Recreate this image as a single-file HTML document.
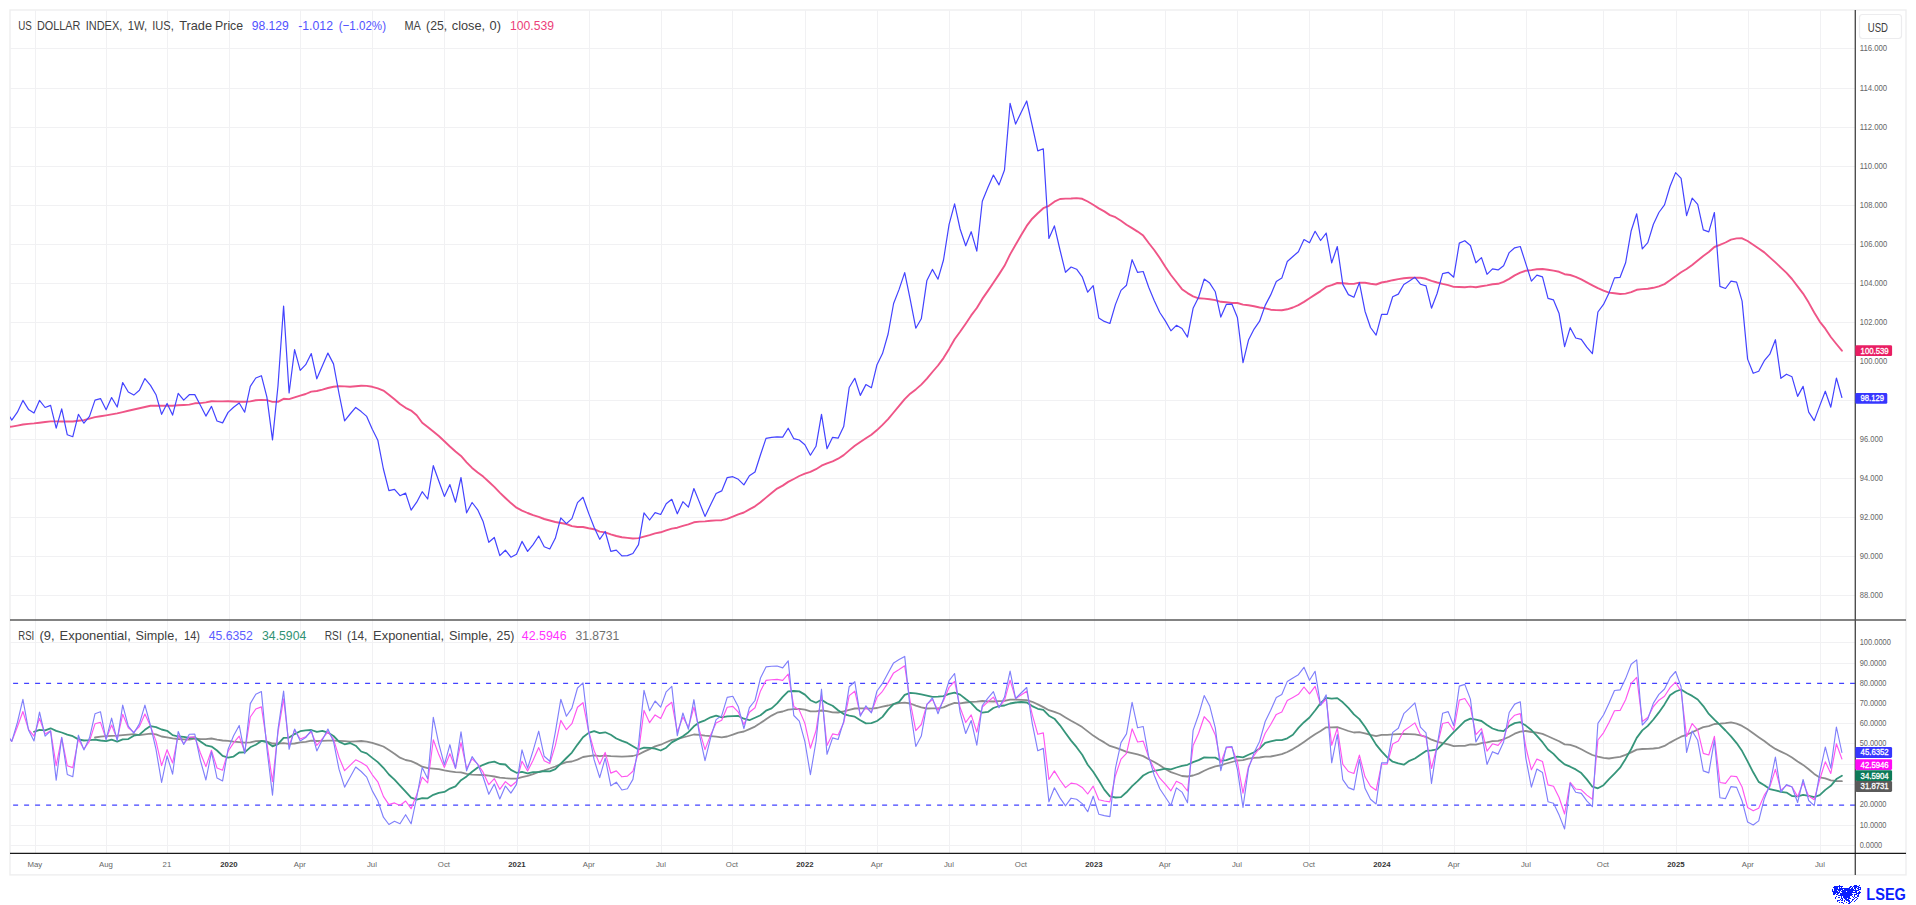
<!DOCTYPE html>
<html><head><meta charset="utf-8"><title>US DOLLAR INDEX</title><style>html,body{margin:0;padding:0;background:#fff;overflow:hidden}svg{display:block}</style></head><body>
<svg width="1916" height="905" viewBox="0 0 1916 905" font-family='"Liberation Sans", Arial, sans-serif'>
<rect width="1916" height="905" fill="#fff"/>
<rect x="10" y="10" width="1896" height="864.9" fill="none" stroke="#eeeeef" stroke-width="1.4"/>
<path d="M35.5 10V853.3 M106.5 10V853.3 M167.5 10V853.3 M229.5 10V853.3 M300.5 10V853.3 M372.5 10V853.3 M444.5 10V853.3 M517.5 10V853.3 M589.5 10V853.3 M661.5 10V853.3 M732.5 10V853.3 M805.5 10V853.3 M877.5 10V853.3 M949.5 10V853.3 M1021.5 10V853.3 M1094.5 10V853.3 M1165.5 10V853.3 M1237.5 10V853.3 M1309.5 10V853.3 M1382.5 10V853.3 M1454.5 10V853.3 M1526.5 10V853.3 M1603.5 10V853.3 M1676.5 10V853.3 M1748.5 10V853.3 M1820.5 10V853.3 M10 595.5H1855.3 M10 556.5H1855.3 M10 517.5H1855.3 M10 478.5H1855.3 M10 439.5H1855.3 M10 400.5H1855.3 M10 361.5H1855.3 M10 322.5H1855.3 M10 283.5H1855.3 M10 244.5H1855.3 M10 205.5H1855.3 M10 166.5H1855.3 M10 127.5H1855.3 M10 88.5H1855.3 M10 48.5H1855.3 M10 845.5H1855.3 M10 825.5H1855.3 M10 784.5H1855.3 M10 764.5H1855.3 M10 743.5H1855.3 M10 723.5H1855.3 M10 703.5H1855.3 M10 663.5H1855.3 M10 642.5H1855.3" stroke="#f1f1f3" stroke-width="1" fill="none"/>
<defs><clipPath id="cp"><rect x="10" y="10" width="1845.3" height="610.0"/></clipPath><clipPath id="cr"><rect x="10" y="620.0" width="1845.3" height="233.29999999999995"/></clipPath></defs>
<g clip-path="url(#cp)" fill="none" stroke-linejoin="round" stroke-linecap="round">
<path d="M6.3 426.9 L11.8 426.6 L17.4 425.6 L22.9 424.5 L28.5 423.9 L34.0 423.4 L39.5 422.7 L45.1 422.0 L50.6 421.4 L56.2 421.4 L61.7 421.5 L67.3 421.5 L72.8 421.5 L78.4 420.8 L83.9 420.1 L89.5 418.6 L95.0 417.1 L100.5 416.3 L106.1 415.4 L111.6 414.4 L117.2 413.4 L122.7 412.1 L128.3 410.8 L133.8 409.5 L139.4 408.2 L144.9 407.0 L150.5 405.7 L156.0 405.7 L161.6 405.7 L167.1 405.7 L172.6 405.7 L178.2 405.3 L183.7 405.0 L189.3 404.6 L194.8 403.3 L200.4 403.1 L205.9 402.4 L211.5 401.2 L217.0 401.4 L222.6 401.4 L228.1 401.2 L233.6 401.5 L239.2 401.7 L244.7 401.8 L250.3 401.4 L255.8 400.2 L261.4 399.9 L266.9 400.1 L272.5 401.9 L278.0 401.8 L283.6 398.8 L289.1 399.1 L294.6 397.3 L300.2 395.6 L305.7 394.0 L311.3 391.6 L316.8 391.0 L322.4 389.6 L327.9 388.0 L333.5 386.7 L339.0 386.3 L344.6 386.4 L350.1 386.8 L355.7 386.2 L361.2 385.8 L366.7 385.9 L372.3 386.8 L377.8 388.3 L383.4 390.6 L388.9 394.7 L394.5 399.2 L400.0 404.0 L405.6 407.8 L411.1 410.6 L416.7 415.3 L422.2 422.7 L427.7 427.0 L433.3 431.6 L438.8 436.0 L444.4 441.3 L449.9 446.5 L455.5 451.5 L461.0 455.9 L466.6 462.3 L472.1 467.9 L477.7 472.5 L483.2 476.6 L488.8 481.7 L494.3 486.9 L499.8 492.6 L505.4 498.0 L510.9 503.1 L516.5 507.7 L522.0 510.6 L527.6 513.0 L533.1 515.2 L538.7 516.8 L544.2 519.0 L549.8 520.5 L555.3 522.0 L560.8 523.0 L566.4 524.0 L571.9 526.1 L577.5 527.0 L583.0 527.0 L588.6 528.2 L594.1 529.2 L599.7 531.6 L605.2 532.4 L610.8 534.3 L616.3 536.0 L621.9 537.3 L627.4 537.9 L632.9 538.5 L638.5 538.1 L644.0 536.6 L649.6 535.1 L655.1 533.4 L660.7 532.3 L666.2 530.4 L671.8 528.6 L677.3 527.7 L682.9 525.9 L688.4 524.3 L693.9 522.3 L699.5 521.6 L705.0 521.4 L710.6 520.8 L716.1 520.4 L721.7 520.2 L727.2 518.8 L732.8 516.7 L738.3 514.3 L743.9 512.5 L749.4 509.4 L755.0 506.3 L760.5 502.3 L766.0 497.6 L771.6 492.9 L777.1 488.6 L782.7 485.6 L788.2 481.9 L793.8 479.0 L799.3 476.0 L804.9 473.6 L810.4 471.9 L816.0 469.2 L821.5 465.7 L827.0 463.3 L832.6 461.3 L838.1 458.7 L843.7 455.1 L849.2 450.4 L854.8 445.8 L860.3 442.0 L865.9 438.3 L871.4 434.7 L877.0 430.1 L882.5 424.9 L888.1 419.2 L893.6 412.5 L899.1 405.9 L904.7 399.2 L910.2 393.7 L915.8 389.4 L921.3 384.6 L926.9 378.7 L932.4 372.0 L938.0 365.5 L943.5 358.1 L949.1 348.9 L954.6 339.2 L960.1 331.8 L965.7 323.7 L971.2 315.4 L976.8 308.0 L982.3 298.9 L987.9 290.9 L993.4 282.8 L999.0 274.4 L1004.5 265.8 L1010.1 254.4 L1015.6 244.8 L1021.1 235.2 L1026.7 225.9 L1032.2 218.7 L1037.8 213.2 L1043.3 208.2 L1048.9 205.8 L1054.4 201.7 L1060.0 199.0 L1065.5 198.6 L1071.1 198.5 L1076.6 198.1 L1082.2 198.8 L1087.7 201.5 L1093.2 204.8 L1098.8 208.4 L1104.3 211.4 L1109.9 215.1 L1115.4 217.2 L1121.0 220.8 L1126.5 224.7 L1132.1 228.1 L1137.6 231.6 L1143.2 235.6 L1148.7 243.0 L1154.2 250.0 L1159.8 258.0 L1165.3 266.8 L1170.9 275.0 L1176.4 282.0 L1182.0 289.2 L1187.5 293.1 L1193.1 296.4 L1198.6 298.3 L1204.2 298.6 L1209.7 299.2 L1215.3 300.1 L1220.8 301.8 L1226.3 302.2 L1231.9 303.0 L1237.4 303.0 L1243.0 304.6 L1248.5 305.3 L1254.1 306.3 L1259.6 307.5 L1265.2 308.3 L1270.7 309.7 L1276.3 310.1 L1281.8 310.3 L1287.3 309.3 L1292.9 307.5 L1298.4 305.1 L1304.0 301.9 L1309.5 298.3 L1315.1 294.6 L1320.6 291.1 L1326.2 286.9 L1331.7 285.1 L1337.3 283.0 L1342.8 283.3 L1348.4 283.7 L1353.9 283.9 L1359.4 282.6 L1365.0 282.8 L1370.5 283.8 L1376.1 284.5 L1381.6 282.5 L1387.2 281.5 L1392.7 280.2 L1398.3 279.1 L1403.8 278.3 L1409.4 277.7 L1414.9 277.6 L1420.4 277.8 L1426.0 278.8 L1431.5 280.9 L1437.1 282.5 L1442.6 283.9 L1448.2 285.1 L1453.7 286.9 L1459.3 287.0 L1464.8 287.3 L1470.4 286.6 L1475.9 287.3 L1481.5 286.2 L1487.0 285.4 L1492.5 284.3 L1498.1 283.8 L1503.6 281.9 L1509.2 278.9 L1514.7 275.4 L1520.3 272.7 L1525.8 270.7 L1531.4 270.1 L1536.9 269.3 L1542.5 269.0 L1548.0 269.7 L1553.5 270.6 L1559.1 271.8 L1564.6 274.2 L1570.2 275.0 L1575.7 276.8 L1581.3 279.4 L1586.8 282.4 L1592.4 285.4 L1597.9 288.2 L1603.5 290.7 L1609.0 292.6 L1614.5 293.2 L1620.1 294.0 L1625.6 293.6 L1631.2 292.1 L1636.7 289.8 L1642.3 289.1 L1647.8 288.7 L1653.4 287.8 L1658.9 286.4 L1664.5 284.1 L1670.0 280.3 L1675.6 276.2 L1681.1 272.3 L1686.6 269.0 L1692.2 264.9 L1697.7 260.5 L1703.3 255.9 L1708.8 252.0 L1714.4 247.0 L1719.9 244.9 L1725.5 242.5 L1731.0 239.6 L1736.6 238.4 L1742.1 238.3 L1747.6 241.0 L1753.2 244.8 L1758.7 248.5 L1764.3 252.4 L1769.8 257.4 L1775.4 262.4 L1780.9 267.6 L1786.5 272.9 L1792.0 279.0 L1797.6 286.3 L1803.1 293.6 L1808.7 302.6 L1814.2 312.5 L1819.7 321.6 L1825.3 328.7 L1830.8 337.0 L1836.4 344.0 L1841.9 350.7" stroke="#ef5587" stroke-width="1.9"/>
<path d="M6.3 411.1 L11.8 420.1 L17.4 412.2 L22.9 400.4 L28.5 409.4 L34.0 413.0 L39.5 400.4 L45.1 407.5 L50.6 405.4 L56.2 428.2 L61.7 408.9 L67.3 434.8 L72.8 436.7 L78.4 414.3 L83.9 423.2 L89.5 416.4 L95.0 400.1 L100.5 398.6 L106.1 409.8 L111.6 397.5 L117.2 407.0 L122.7 382.5 L128.3 392.0 L133.8 395.1 L139.4 390.2 L144.9 378.6 L150.5 385.4 L156.0 394.7 L161.6 414.3 L167.1 403.5 L172.6 415.1 L178.2 393.3 L183.7 400.1 L189.3 394.7 L194.8 394.6 L200.4 405.3 L205.9 416.1 L211.5 406.4 L217.0 421.0 L222.6 422.9 L228.1 412.4 L233.6 407.2 L239.2 403.0 L244.7 412.2 L250.3 386.4 L255.8 378.0 L261.4 375.7 L266.9 397.2 L272.5 439.9 L278.0 385.7 L283.6 306.0 L289.1 393.0 L294.6 349.7 L300.2 370.4 L305.7 364.7 L311.3 353.6 L316.8 378.8 L322.4 365.7 L327.9 353.1 L333.5 363.9 L339.0 393.5 L344.6 420.8 L350.1 414.0 L355.7 407.4 L361.2 411.6 L366.7 416.4 L372.3 429.2 L377.8 440.2 L383.4 469.0 L388.9 490.6 L394.5 489.4 L400.0 495.7 L405.6 493.1 L411.1 510.1 L416.7 502.2 L422.2 491.7 L427.7 499.0 L433.3 465.7 L438.8 481.0 L444.4 496.4 L449.9 484.6 L455.5 502.2 L461.0 477.5 L466.6 512.8 L472.1 502.5 L477.7 509.8 L483.2 521.8 L488.8 542.3 L494.3 537.5 L499.8 555.6 L505.4 550.2 L510.9 557.2 L516.5 554.3 L522.0 541.4 L527.6 551.4 L533.1 544.6 L538.7 536.0 L544.2 546.7 L549.8 549.0 L555.3 538.3 L560.8 517.8 L566.4 523.6 L571.9 518.6 L577.5 502.6 L583.0 497.3 L588.6 513.1 L594.1 527.3 L599.7 539.3 L605.2 531.5 L610.8 551.4 L616.3 550.1 L621.9 555.9 L627.4 555.6 L632.9 553.5 L638.5 544.6 L644.0 512.9 L649.6 520.0 L655.1 512.6 L660.7 514.5 L666.2 503.8 L671.8 499.3 L677.3 513.8 L682.9 501.7 L688.4 507.2 L693.9 488.5 L699.5 502.4 L705.0 516.4 L710.6 504.8 L716.1 493.5 L721.7 490.9 L727.2 477.6 L732.8 476.7 L738.3 479.3 L743.9 484.9 L749.4 475.7 L755.0 472.0 L760.5 454.7 L766.0 438.4 L771.6 437.3 L777.1 436.8 L782.7 437.1 L788.2 428.2 L793.8 438.7 L799.3 440.0 L804.9 444.7 L810.4 455.2 L816.0 446.3 L821.5 414.3 L827.0 448.7 L832.6 437.3 L838.1 438.2 L843.7 426.6 L849.2 387.5 L854.8 378.3 L860.3 395.4 L865.9 384.6 L871.4 387.8 L877.0 364.7 L882.5 353.6 L888.1 334.0 L893.6 303.5 L899.1 289.4 L904.7 272.6 L910.2 299.3 L915.8 328.2 L921.3 318.8 L926.9 280.4 L932.4 269.4 L938.0 279.2 L943.5 260.0 L949.1 224.3 L954.6 203.8 L960.1 229.0 L965.7 245.8 L971.2 231.7 L976.8 251.1 L982.3 201.2 L987.9 187.6 L993.4 175.0 L999.0 184.9 L1004.5 170.0 L1010.1 103.4 L1015.6 124.1 L1021.1 112.6 L1026.7 101.0 L1032.2 125.5 L1037.8 150.9 L1043.3 148.8 L1048.9 238.5 L1054.4 225.9 L1060.0 250.0 L1065.5 272.3 L1071.1 267.0 L1076.6 269.2 L1082.2 276.8 L1087.7 292.2 L1093.2 285.7 L1098.8 318.0 L1104.3 321.4 L1109.9 323.5 L1115.4 304.6 L1121.0 290.4 L1126.5 285.2 L1132.1 259.7 L1137.6 272.4 L1143.2 271.5 L1148.7 287.3 L1154.2 300.4 L1159.8 312.5 L1165.3 320.9 L1170.9 330.8 L1176.4 325.3 L1182.0 328.5 L1187.5 337.1 L1193.1 308.3 L1198.6 297.2 L1204.2 279.1 L1209.7 283.1 L1215.3 291.8 L1220.8 317.1 L1226.3 304.4 L1231.9 304.1 L1237.4 317.4 L1243.0 362.7 L1248.5 340.1 L1254.1 329.1 L1259.6 321.2 L1265.2 305.4 L1270.7 294.9 L1276.3 281.4 L1281.8 278.1 L1287.3 261.5 L1292.9 256.5 L1298.4 251.7 L1304.0 239.5 L1309.5 242.8 L1315.1 231.3 L1320.6 240.5 L1326.2 233.1 L1331.7 262.8 L1337.3 246.5 L1342.8 284.4 L1348.4 294.6 L1353.9 297.3 L1359.4 282.6 L1365.0 311.2 L1370.5 327.5 L1376.1 335.1 L1381.6 314.4 L1387.2 314.4 L1392.7 296.8 L1398.3 294.1 L1403.8 284.5 L1409.4 280.9 L1414.9 277.3 L1420.4 284.2 L1426.0 285.9 L1431.5 308.2 L1437.1 293.5 L1442.6 273.6 L1448.2 272.3 L1453.7 277.2 L1459.3 243.1 L1464.8 240.7 L1470.4 245.5 L1475.9 262.8 L1481.5 257.6 L1487.0 274.3 L1492.5 268.8 L1498.1 269.9 L1503.6 265.7 L1509.2 252.6 L1514.7 247.8 L1520.3 246.5 L1525.8 263.6 L1531.4 281.1 L1536.9 275.1 L1542.5 276.9 L1548.0 298.3 L1553.5 299.9 L1559.1 313.6 L1564.6 346.6 L1570.2 327.7 L1575.7 338.0 L1581.3 339.3 L1586.8 347.2 L1592.4 353.7 L1597.9 312.0 L1603.5 304.4 L1609.0 292.9 L1614.5 277.9 L1620.1 277.3 L1625.6 262.8 L1631.2 230.7 L1636.7 213.8 L1642.3 248.9 L1647.8 242.6 L1653.4 224.3 L1658.9 212.5 L1664.5 204.9 L1670.0 186.5 L1675.6 172.6 L1681.1 178.4 L1686.6 215.6 L1692.2 198.1 L1697.7 204.4 L1703.3 229.9 L1708.8 231.9 L1714.4 212.5 L1719.9 286.4 L1725.5 288.5 L1731.0 281.1 L1736.6 282.2 L1742.1 301.1 L1747.6 359.1 L1753.2 373.3 L1758.7 371.2 L1764.3 360.7 L1769.8 354.2 L1775.4 339.7 L1780.9 378.3 L1786.5 374.2 L1792.0 376.8 L1797.6 396.4 L1803.1 386.4 L1808.7 412.2 L1814.2 420.6 L1819.7 405.9 L1825.3 391.2 L1830.8 407.2 L1836.4 378.0 L1841.9 397.5" stroke="#4343ff" stroke-width="1.2"/>
</g>
<g clip-path="url(#cr)" fill="none" stroke-linejoin="round" stroke-linecap="round">
<path d="M2.1 683.4H1855.3M2.1 805.1H1855.3" stroke="#4343ff" stroke-width="1.1" stroke-dasharray="5 6" stroke-linecap="butt"/>
<path d="M95.0 737.5 L100.5 736.7 L106.1 736.2 L111.6 735.9 L117.2 735.6 L122.7 735.1 L128.3 734.6 L133.8 734.1 L139.4 735.2 L144.9 734.4 L150.5 733.7 L156.0 734.3 L161.6 736.5 L167.1 737.3 L172.6 738.4 L178.2 739.0 L183.7 739.4 L189.3 739.7 L194.8 738.5 L200.4 739.2 L205.9 739.2 L211.5 738.5 L217.0 739.6 L222.6 740.5 L228.1 740.9 L233.6 741.7 L239.2 742.2 L244.7 742.7 L250.3 742.4 L255.8 741.2 L261.4 740.9 L266.9 741.5 L272.5 743.5 L278.0 743.7 L283.6 743.1 L289.1 743.9 L294.6 743.5 L300.2 742.4 L305.7 741.9 L311.3 740.6 L316.8 741.0 L322.4 740.8 L327.9 740.6 L333.5 740.7 L339.0 740.9 L344.6 741.1 L350.1 741.7 L355.7 741.3 L361.2 741.0 L366.7 741.6 L372.3 742.9 L377.8 744.7 L383.4 746.5 L388.9 750.0 L394.5 753.7 L400.0 757.7 L405.6 760.0 L411.1 761.1 L416.7 763.6 L422.2 766.7 L427.7 768.2 L433.3 768.6 L438.8 769.2 L444.4 770.4 L449.9 771.3 L455.5 772.2 L461.0 772.4 L466.6 773.8 L472.1 774.6 L477.7 774.9 L483.2 775.0 L488.8 775.7 L494.3 776.5 L499.8 777.6 L505.4 778.2 L510.9 778.6 L516.5 778.6 L522.0 777.2 L527.6 775.9 L533.1 774.2 L538.7 771.9 L544.2 770.3 L549.8 768.5 L555.3 766.5 L560.8 764.2 L566.4 762.1 L571.9 761.5 L577.5 759.6 L583.0 757.0 L588.6 756.1 L594.1 755.4 L599.7 756.2 L605.2 755.6 L610.8 756.2 L616.3 756.4 L621.9 756.6 L627.4 756.3 L632.9 756.0 L638.5 754.5 L644.0 751.6 L649.6 749.1 L655.1 746.4 L660.7 744.7 L666.2 742.2 L671.8 739.8 L677.3 739.2 L682.9 737.5 L688.4 736.0 L693.9 734.5 L699.5 734.9 L705.0 735.7 L710.6 736.1 L716.1 736.7 L721.7 737.4 L727.2 736.5 L732.8 734.7 L738.3 732.6 L743.9 731.5 L749.4 729.1 L755.0 726.6 L760.5 723.1 L766.0 719.3 L771.6 715.6 L777.1 712.7 L782.7 711.5 L788.2 709.6 L793.8 709.2 L799.3 708.9 L804.9 709.6 L810.4 711.4 L816.0 711.4 L821.5 710.5 L827.0 711.2 L832.6 712.3 L838.1 712.5 L843.7 711.4 L849.2 709.8 L854.8 708.5 L860.3 708.3 L865.9 708.3 L871.4 708.6 L877.0 708.0 L882.5 706.6 L888.1 705.5 L893.6 704.1 L899.1 703.2 L904.7 702.6 L910.2 703.5 L915.8 705.6 L921.3 707.3 L926.9 708.5 L932.4 708.3 L938.0 708.3 L943.5 707.4 L949.1 704.9 L954.6 702.9 L960.1 703.4 L965.7 702.5 L971.2 701.8 L976.8 701.6 L982.3 701.0 L987.9 701.3 L993.4 701.5 L999.0 701.2 L1004.5 700.9 L1010.1 699.6 L1015.6 699.7 L1021.1 699.8 L1026.7 700.2 L1032.2 701.8 L1037.8 704.4 L1043.3 707.1 L1048.9 710.2 L1054.4 711.8 L1060.0 714.0 L1065.5 717.4 L1071.1 720.7 L1076.6 723.7 L1082.2 727.1 L1087.7 731.4 L1093.2 735.6 L1098.8 739.3 L1104.3 742.4 L1109.9 745.9 L1115.4 747.6 L1121.0 749.7 L1126.5 751.8 L1132.1 753.1 L1137.6 754.4 L1143.2 756.1 L1148.7 759.2 L1154.2 762.0 L1159.8 765.3 L1165.3 769.0 L1170.9 772.1 L1176.4 774.0 L1182.0 776.0 L1187.5 776.5 L1193.1 775.5 L1198.6 773.6 L1204.2 770.8 L1209.7 768.3 L1215.3 766.4 L1220.8 765.4 L1226.3 763.5 L1231.9 762.0 L1237.4 760.5 L1243.0 760.2 L1248.5 758.7 L1254.1 757.9 L1259.6 757.5 L1265.2 756.7 L1270.7 756.5 L1276.3 755.4 L1281.8 754.2 L1287.3 752.0 L1292.9 749.1 L1298.4 745.7 L1304.0 741.9 L1309.5 738.0 L1315.1 734.2 L1320.6 731.0 L1326.2 727.3 L1331.7 727.3 L1337.3 727.1 L1342.8 729.0 L1348.4 731.0 L1353.9 732.5 L1359.4 732.2 L1365.0 733.4 L1370.5 734.9 L1376.1 736.1 L1381.6 734.9 L1387.2 734.8 L1392.7 734.4 L1398.3 734.1 L1403.8 734.0 L1409.4 734.1 L1414.9 734.4 L1420.4 735.3 L1426.0 736.8 L1431.5 739.7 L1437.1 741.7 L1442.6 743.2 L1448.2 744.3 L1453.7 746.1 L1459.3 745.9 L1464.8 745.9 L1470.4 744.4 L1475.9 744.6 L1481.5 743.2 L1487.0 742.4 L1492.5 741.2 L1498.1 740.8 L1503.6 739.3 L1509.2 736.7 L1514.7 733.7 L1520.3 731.6 L1525.8 731.0 L1531.4 732.0 L1536.9 732.7 L1542.5 733.9 L1548.0 736.3 L1553.5 738.8 L1559.1 741.3 L1564.6 744.4 L1570.2 744.9 L1575.7 746.6 L1581.3 749.3 L1586.8 752.2 L1592.4 755.0 L1597.9 756.6 L1603.5 757.9 L1609.0 758.5 L1614.5 757.6 L1620.1 756.8 L1625.6 754.8 L1631.2 752.4 L1636.7 749.6 L1642.3 749.0 L1647.8 748.8 L1653.4 748.5 L1658.9 747.9 L1664.5 745.9 L1670.0 742.6 L1675.6 739.5 L1681.1 736.7 L1686.6 734.8 L1692.2 732.3 L1697.7 729.6 L1703.3 727.2 L1708.8 726.1 L1714.4 724.0 L1719.9 723.7 L1725.5 723.2 L1731.0 722.3 L1736.6 723.7 L1742.1 725.9 L1747.6 729.3 L1753.2 733.3 L1758.7 737.2 L1764.3 741.0 L1769.8 745.2 L1775.4 748.9 L1780.9 751.6 L1786.5 754.3 L1792.0 757.5 L1797.6 761.4 L1803.1 764.9 L1808.7 769.2 L1814.2 773.9 L1819.7 777.4 L1825.3 778.4 L1830.8 780.4 L1836.4 781.0 L1841.9 781.2" stroke="#8c8c8c" stroke-width="1.8"/>
<path d="M34.0 731.8 L39.5 729.9 L45.1 730.4 L50.6 728.3 L56.2 730.9 L61.7 732.5 L67.3 734.6 L72.8 736.2 L78.4 739.4 L83.9 740.5 L89.5 740.2 L95.0 739.6 L100.5 740.5 L106.1 741.2 L111.6 739.6 L117.2 741.6 L122.7 739.4 L128.3 739.1 L133.8 735.7 L139.4 734.7 L144.9 729.8 L150.5 726.1 L156.0 727.1 L161.6 729.5 L167.1 730.8 L172.6 735.1 L178.2 736.5 L183.7 736.8 L189.3 738.0 L194.8 737.5 L200.4 741.4 L205.9 745.3 L211.5 746.6 L217.0 750.5 L222.6 755.9 L228.1 757.6 L233.6 756.6 L239.2 752.5 L244.7 752.4 L250.3 747.3 L255.8 744.7 L261.4 740.9 L266.9 742.0 L272.5 746.3 L278.0 744.1 L283.6 737.8 L289.1 737.6 L294.6 734.1 L300.2 731.2 L305.7 730.4 L311.3 730.0 L316.8 731.8 L322.4 730.8 L327.9 732.6 L333.5 736.0 L339.0 741.6 L344.6 744.3 L350.1 743.0 L355.7 745.7 L361.2 751.5 L366.7 753.4 L372.3 757.9 L377.8 762.1 L383.4 767.8 L388.9 774.5 L394.5 779.6 L400.0 785.6 L405.6 791.7 L411.1 797.6 L416.7 799.6 L422.2 798.2 L427.7 798.3 L433.3 794.8 L438.8 792.8 L444.4 791.9 L449.9 788.6 L455.5 786.3 L461.0 780.2 L466.6 776.4 L472.1 771.7 L477.7 767.5 L483.2 764.8 L488.8 762.7 L494.3 761.7 L499.8 764.0 L505.4 764.5 L510.9 769.9 L516.5 772.8 L522.0 771.8 L527.6 773.4 L533.1 772.2 L538.7 772.1 L544.2 771.1 L549.8 771.4 L555.3 769.1 L560.8 763.6 L566.4 758.0 L571.9 752.6 L577.5 744.6 L583.0 737.3 L588.6 732.9 L594.1 731.1 L599.7 733.1 L605.2 732.3 L610.8 734.8 L616.3 738.5 L621.9 740.9 L627.4 742.9 L632.9 746.2 L638.5 749.5 L644.0 747.6 L649.6 747.8 L655.1 748.7 L660.7 750.5 L666.2 747.7 L671.8 742.4 L677.3 739.4 L682.9 736.2 L688.4 732.2 L693.9 726.3 L699.5 722.3 L705.0 720.3 L710.6 717.3 L716.1 715.6 L721.7 717.4 L727.2 716.4 L732.8 716.1 L738.3 716.0 L743.9 718.7 L749.4 720.2 L755.0 717.7 L760.5 715.2 L766.0 710.7 L771.6 708.3 L777.1 703.4 L782.7 696.8 L788.2 691.3 L793.8 691.0 L799.3 691.4 L804.9 694.6 L810.4 700.2 L816.0 702.7 L821.5 699.8 L827.0 703.2 L832.6 705.8 L838.1 710.2 L843.7 714.1 L849.2 715.6 L854.8 716.7 L860.3 720.2 L865.9 723.4 L871.4 723.2 L877.0 721.0 L882.5 716.9 L888.1 709.6 L893.6 704.0 L899.1 701.9 L904.7 694.9 L910.2 692.8 L915.8 693.3 L921.3 694.4 L926.9 695.6 L932.4 696.8 L938.0 696.6 L943.5 696.1 L949.1 693.8 L954.6 692.6 L960.1 694.6 L965.7 699.0 L971.2 703.1 L976.8 709.2 L982.3 712.7 L987.9 711.9 L993.4 708.0 L999.0 706.0 L1004.5 705.5 L1010.1 703.5 L1015.6 702.5 L1021.1 702.0 L1026.7 702.5 L1032.2 706.1 L1037.8 708.8 L1043.3 709.9 L1048.9 715.7 L1054.4 718.7 L1060.0 725.3 L1065.5 733.0 L1071.1 740.6 L1076.6 747.2 L1082.2 754.8 L1087.7 764.8 L1093.2 771.8 L1098.8 780.5 L1104.3 789.6 L1109.9 796.3 L1115.4 797.5 L1121.0 797.1 L1126.5 792.3 L1132.1 786.2 L1137.6 781.2 L1143.2 775.5 L1148.7 772.5 L1154.2 770.8 L1159.8 769.8 L1165.3 768.7 L1170.9 769.4 L1176.4 767.5 L1182.0 765.8 L1187.5 764.8 L1193.1 762.1 L1198.6 760.1 L1204.2 757.4 L1209.7 757.6 L1215.3 757.6 L1220.8 760.8 L1226.3 760.1 L1231.9 758.1 L1237.4 756.7 L1243.0 757.4 L1248.5 754.8 L1254.1 752.2 L1259.6 748.6 L1265.2 742.8 L1270.7 741.4 L1276.3 740.1 L1281.8 740.1 L1287.3 738.3 L1292.9 734.8 L1298.4 727.9 L1304.0 722.2 L1309.5 717.5 L1315.1 710.5 L1320.6 703.1 L1326.2 697.9 L1331.7 698.6 L1337.3 698.1 L1342.8 702.3 L1348.4 707.8 L1353.9 714.4 L1359.4 719.1 L1365.0 726.7 L1370.5 735.4 L1376.1 744.6 L1381.6 751.4 L1387.2 757.3 L1392.7 761.7 L1398.3 763.3 L1403.8 764.7 L1409.4 760.8 L1414.9 758.5 L1420.4 754.8 L1426.0 750.9 L1431.5 750.4 L1437.1 749.4 L1442.6 744.0 L1448.2 737.8 L1453.7 732.2 L1459.3 726.7 L1464.8 721.1 L1470.4 718.7 L1475.9 719.7 L1481.5 721.0 L1487.0 725.0 L1492.5 728.5 L1498.1 730.4 L1503.6 731.1 L1509.2 726.0 L1514.7 723.1 L1520.3 722.2 L1525.8 725.6 L1531.4 730.0 L1536.9 735.9 L1542.5 742.2 L1548.0 749.5 L1553.5 753.9 L1559.1 759.8 L1564.6 764.4 L1570.2 766.7 L1575.7 769.4 L1581.3 773.1 L1586.8 779.4 L1592.4 786.7 L1597.9 788.3 L1603.5 785.2 L1609.0 779.2 L1614.5 773.6 L1620.1 767.7 L1625.6 758.9 L1631.2 749.0 L1636.7 737.9 L1642.3 730.4 L1647.8 725.9 L1653.4 719.5 L1658.9 712.4 L1664.5 704.4 L1670.0 695.2 L1675.6 691.5 L1681.1 689.5 L1686.6 693.0 L1692.2 695.9 L1697.7 699.5 L1703.3 706.1 L1708.8 713.9 L1714.4 719.6 L1719.9 724.8 L1725.5 730.5 L1731.0 736.4 L1736.6 743.1 L1742.1 751.1 L1747.6 761.4 L1753.2 772.3 L1758.7 781.9 L1764.3 785.2 L1769.8 789.1 L1775.4 790.3 L1780.9 791.8 L1786.5 792.6 L1792.0 796.0 L1797.6 796.3 L1803.1 794.9 L1808.7 795.9 L1814.2 797.2 L1819.7 795.2 L1825.3 789.9 L1830.8 785.8 L1836.4 779.1 L1841.9 775.8" stroke="#36957a" stroke-width="1.8"/>
<path d="M6.3 734.1 L11.8 741.4 L17.4 726.7 L22.9 711.5 L28.5 729.4 L34.0 736.2 L39.5 718.3 L45.1 734.0 L50.6 730.8 L56.2 765.7 L61.7 737.6 L67.3 765.8 L72.8 767.6 L78.4 739.2 L83.9 749.2 L89.5 741.1 L95.0 723.8 L100.5 722.4 L106.1 739.1 L111.6 725.0 L117.2 739.0 L122.7 714.3 L128.3 727.8 L133.8 732.2 L139.4 726.5 L144.9 714.1 L150.5 726.1 L156.0 741.1 L161.6 765.6 L167.1 749.7 L172.6 763.0 L178.2 735.3 L183.7 743.7 L189.3 737.1 L194.8 737.0 L200.4 753.0 L205.9 766.6 L211.5 750.3 L217.0 768.0 L222.6 770.2 L228.1 751.3 L233.6 742.9 L239.2 736.1 L244.7 752.1 L250.3 717.0 L255.8 709.0 L261.4 706.9 L266.9 743.2 L272.5 781.6 L278.0 732.4 L283.6 698.8 L289.1 745.9 L294.6 729.9 L300.2 739.0 L305.7 736.7 L311.3 731.8 L316.8 745.5 L322.4 738.6 L327.9 731.9 L333.5 739.2 L339.0 757.2 L344.6 770.7 L350.1 765.3 L355.7 759.8 L361.2 762.6 L366.7 765.9 L372.3 774.8 L377.8 781.8 L383.4 796.4 L388.9 804.6 L394.5 802.9 L400.0 805.5 L405.6 801.0 L411.1 808.7 L416.7 794.6 L422.2 777.1 L427.7 782.9 L433.3 739.8 L438.8 754.6 L444.4 767.4 L449.9 753.7 L455.5 768.3 L461.0 742.6 L466.6 768.6 L472.1 758.8 L477.7 764.0 L483.2 772.4 L488.8 784.7 L494.3 778.6 L499.8 789.3 L505.4 781.6 L510.9 786.3 L516.5 781.5 L522.0 761.2 L527.6 771.0 L533.1 760.3 L538.7 747.6 L544.2 760.8 L549.8 763.5 L555.3 745.7 L560.8 720.4 L566.4 729.7 L571.9 723.7 L577.5 707.3 L583.0 702.7 L588.6 731.1 L594.1 750.6 L599.7 764.2 L605.2 752.4 L610.8 773.1 L616.3 770.9 L621.9 776.8 L627.4 776.1 L632.9 771.3 L638.5 752.1 L644.0 710.4 L649.6 722.7 L655.1 714.9 L660.7 718.4 L666.2 706.8 L671.8 702.3 L677.3 731.8 L682.9 717.1 L688.4 727.4 L693.9 707.2 L699.5 730.7 L705.0 749.6 L710.6 735.1 L716.1 722.9 L721.7 720.2 L727.2 707.2 L732.8 706.4 L738.3 712.1 L743.9 724.5 L749.4 712.3 L755.0 707.8 L760.5 690.9 L766.0 680.4 L771.6 679.7 L777.1 679.4 L782.7 680.4 L788.2 674.0 L793.8 706.4 L799.3 710.1 L804.9 723.4 L810.4 748.2 L816.0 730.8 L821.5 695.0 L827.0 745.5 L832.6 733.9 L838.1 735.0 L843.7 722.8 L849.2 695.6 L854.8 691.2 L860.3 714.9 L865.9 707.6 L871.4 712.2 L877.0 697.2 L882.5 691.3 L888.1 682.6 L893.6 672.9 L899.1 669.5 L904.7 665.8 L910.2 701.8 L915.8 730.6 L921.3 724.5 L926.9 704.3 L932.4 699.6 L938.0 710.2 L943.5 700.7 L949.1 687.3 L954.6 681.4 L960.1 707.5 L965.7 722.5 L971.2 714.9 L976.8 732.1 L982.3 707.0 L987.9 701.8 L993.4 697.1 L999.0 707.1 L1004.5 700.4 L1010.1 680.2 L1015.6 698.7 L1021.1 695.0 L1026.7 691.2 L1032.2 714.3 L1037.8 734.3 L1043.3 732.9 L1048.9 779.5 L1054.4 770.9 L1060.0 780.0 L1065.5 787.6 L1071.1 783.1 L1076.6 784.0 L1082.2 787.4 L1087.7 794.0 L1093.2 786.1 L1098.8 799.8 L1104.3 801.0 L1109.9 801.9 L1115.4 775.7 L1121.0 759.1 L1126.5 753.3 L1132.1 728.8 L1137.6 742.0 L1143.2 741.1 L1148.7 757.4 L1154.2 768.9 L1159.8 778.2 L1165.3 784.2 L1170.9 790.8 L1176.4 781.3 L1182.0 784.0 L1187.5 791.0 L1193.1 745.6 L1198.6 733.3 L1204.2 716.7 L1209.7 722.5 L1215.3 734.9 L1220.8 763.0 L1226.3 747.6 L1231.9 747.3 L1237.4 762.1 L1243.0 793.2 L1248.5 766.7 L1254.1 755.5 L1259.6 747.7 L1265.2 733.2 L1270.7 724.5 L1276.3 714.4 L1281.8 711.9 L1287.3 700.5 L1292.9 697.4 L1298.4 694.3 L1304.0 687.0 L1309.5 693.8 L1315.1 686.3 L1320.6 705.2 L1326.2 699.0 L1331.7 745.2 L1337.3 728.2 L1342.8 764.4 L1348.4 771.5 L1353.9 773.5 L1359.4 755.1 L1365.0 776.8 L1370.5 786.2 L1376.1 790.3 L1381.6 764.2 L1387.2 764.2 L1392.7 744.0 L1398.3 741.1 L1403.8 730.8 L1409.4 726.9 L1414.9 722.9 L1420.4 734.7 L1426.0 737.6 L1431.5 768.5 L1437.1 746.0 L1442.6 723.5 L1448.2 722.2 L1453.7 730.3 L1459.3 700.1 L1464.8 698.5 L1470.4 707.3 L1475.9 734.6 L1481.5 728.7 L1487.0 751.2 L1492.5 743.8 L1498.1 745.4 L1503.6 738.9 L1509.2 720.9 L1514.7 715.2 L1520.3 713.6 L1525.8 747.0 L1531.4 769.8 L1536.9 759.1 L1542.5 761.5 L1548.0 784.9 L1553.5 786.3 L1559.1 797.5 L1564.6 814.0 L1570.2 782.4 L1575.7 789.0 L1581.3 789.8 L1586.8 795.1 L1592.4 799.3 L1597.9 740.0 L1603.5 732.8 L1609.0 722.5 L1614.5 710.8 L1620.1 710.4 L1625.6 699.7 L1631.2 683.3 L1636.7 677.3 L1642.3 721.5 L1647.8 717.5 L1653.4 706.5 L1658.9 700.2 L1664.5 696.3 L1670.0 687.7 L1675.6 682.2 L1681.1 691.3 L1686.6 736.4 L1692.2 723.6 L1697.7 730.2 L1703.3 753.4 L1708.8 755.0 L1714.4 736.3 L1719.9 782.5 L1725.5 783.4 L1731.0 776.0 L1736.6 776.6 L1742.1 787.0 L1747.6 807.4 L1753.2 810.8 L1758.7 808.3 L1764.3 795.1 L1769.8 786.9 L1775.4 769.3 L1780.9 790.1 L1786.5 785.4 L1792.0 786.8 L1797.6 796.6 L1803.1 782.8 L1808.7 796.1 L1814.2 799.7 L1819.7 779.5 L1825.3 761.8 L1830.8 773.5 L1836.4 743.8 L1841.9 759.0" stroke="#ff55f0" stroke-width="1.15"/>
<path d="M6.3 734.1 L11.8 741.4 L17.4 722.5 L22.9 699.4 L28.5 729.9 L34.0 740.9 L39.5 712.0 L45.1 736.1 L50.6 731.0 L56.2 780.1 L61.7 737.3 L67.3 774.5 L72.8 776.7 L78.4 735.2 L83.9 749.9 L89.5 737.8 L95.0 713.8 L100.5 711.8 L106.1 739.7 L111.6 718.1 L117.2 740.7 L122.7 705.1 L128.3 726.2 L133.8 733.1 L139.4 723.9 L144.9 705.1 L150.5 725.5 L156.0 749.4 L161.6 782.5 L167.1 755.8 L172.6 774.2 L178.2 731.5 L183.7 744.4 L189.3 734.2 L194.8 734.1 L200.4 760.4 L205.9 780.0 L211.5 751.8 L217.0 778.0 L222.6 780.9 L228.1 749.1 L233.6 735.8 L239.2 725.4 L244.7 753.6 L250.3 703.6 L255.8 694.2 L261.4 691.6 L266.9 748.7 L272.5 795.2 L278.0 729.4 L283.6 691.1 L289.1 749.3 L294.6 729.1 L300.2 741.0 L305.7 737.6 L311.3 730.4 L316.8 750.9 L322.4 739.7 L327.9 729.0 L333.5 741.4 L339.0 769.2 L344.6 787.1 L350.1 777.3 L355.7 767.0 L361.2 771.5 L366.7 777.1 L372.3 790.9 L377.8 800.7 L383.4 817.2 L388.9 824.5 L394.5 821.3 L400.0 823.8 L405.6 814.7 L411.1 823.8 L416.7 797.5 L422.2 767.5 L427.7 778.8 L433.3 717.4 L438.8 743.8 L444.4 764.8 L449.9 744.7 L455.5 768.4 L461.0 731.8 L466.6 770.8 L472.1 756.6 L477.7 764.5 L483.2 777.2 L488.8 794.3 L494.3 784.0 L499.8 799.0 L505.4 786.0 L510.9 793.1 L516.5 784.4 L522.0 749.9 L527.6 768.2 L533.1 750.7 L538.7 731.2 L544.2 756.3 L549.8 761.3 L555.3 732.3 L560.8 699.3 L566.4 716.2 L571.9 708.1 L577.5 688.0 L583.0 682.9 L588.6 731.1 L594.1 759.7 L599.7 777.6 L605.2 758.1 L610.8 785.8 L616.3 782.2 L621.9 790.0 L627.4 788.8 L632.9 779.4 L638.5 744.6 L644.0 690.4 L649.6 710.8 L655.1 701.0 L660.7 707.1 L666.2 691.8 L671.8 686.4 L677.3 735.7 L682.9 713.0 L688.4 729.2 L693.9 699.7 L699.5 734.8 L705.0 760.6 L710.6 737.8 L716.1 719.6 L721.7 715.6 L727.2 697.4 L732.8 696.3 L738.3 706.7 L743.9 728.6 L749.4 707.6 L755.0 700.5 L760.5 678.0 L766.0 666.9 L771.6 666.3 L777.1 666.0 L782.7 667.9 L788.2 660.8 L793.8 715.5 L799.3 721.2 L804.9 741.7 L810.4 774.6 L816.0 741.5 L821.5 689.2 L827.0 754.3 L832.6 737.9 L838.1 739.5 L843.7 721.4 L849.2 686.7 L854.8 681.7 L860.3 716.2 L865.9 705.8 L871.4 712.8 L877.0 691.0 L882.5 683.4 L888.1 672.9 L893.6 662.9 L899.1 659.6 L904.7 656.4 L910.2 709.1 L915.8 746.5 L921.3 736.1 L926.9 704.5 L932.4 697.9 L938.0 713.7 L943.5 699.0 L949.1 680.7 L954.6 673.5 L960.1 712.3 L965.7 733.5 L971.2 720.5 L976.8 745.2 L982.3 705.5 L987.9 698.2 L993.4 691.6 L999.0 707.7 L1004.5 697.1 L1010.1 671.1 L1015.6 698.5 L1021.1 693.0 L1026.7 687.5 L1032.2 723.1 L1037.8 750.8 L1043.3 748.4 L1048.9 801.8 L1054.4 787.8 L1060.0 797.9 L1065.5 805.9 L1071.1 798.2 L1076.6 799.3 L1082.2 803.6 L1087.7 811.7 L1093.2 796.2 L1098.8 814.2 L1104.3 815.6 L1109.9 816.6 L1115.4 768.5 L1121.0 742.6 L1126.5 733.9 L1132.1 702.4 L1137.6 727.8 L1143.2 726.5 L1148.7 756.7 L1154.2 775.2 L1159.8 788.8 L1165.3 797.0 L1170.9 805.5 L1176.4 787.9 L1182.0 792.1 L1187.5 802.7 L1193.1 730.4 L1198.6 714.8 L1204.2 695.6 L1209.7 705.9 L1215.3 727.9 L1220.8 770.7 L1226.3 747.0 L1231.9 746.5 L1237.4 769.4 L1243.0 807.4 L1248.5 768.4 L1254.1 752.6 L1259.6 741.5 L1265.2 721.5 L1270.7 710.2 L1276.3 697.5 L1281.8 694.5 L1287.3 681.4 L1292.9 678.0 L1298.4 674.7 L1304.0 667.3 L1309.5 680.3 L1315.1 671.3 L1320.6 705.1 L1326.2 694.9 L1331.7 762.8 L1337.3 734.5 L1342.8 779.7 L1348.4 787.6 L1353.9 789.9 L1359.4 759.5 L1365.0 788.3 L1370.5 799.3 L1376.1 804.0 L1381.6 762.8 L1387.2 762.8 L1392.7 732.4 L1398.3 728.2 L1403.8 713.7 L1409.4 708.3 L1414.9 702.9 L1420.4 727.1 L1426.0 732.8 L1431.5 783.4 L1437.1 745.5 L1442.6 713.3 L1448.2 711.6 L1453.7 725.7 L1459.3 686.1 L1464.8 684.4 L1470.4 699.1 L1475.9 741.9 L1481.5 732.1 L1487.0 764.4 L1492.5 751.7 L1498.1 754.1 L1503.6 742.0 L1509.2 712.5 L1514.7 704.1 L1520.3 701.8 L1525.8 758.0 L1531.4 787.2 L1536.9 769.0 L1542.5 772.5 L1548.0 801.7 L1553.5 803.3 L1559.1 815.1 L1564.6 829.0 L1570.2 783.2 L1575.7 792.2 L1581.3 793.4 L1586.8 800.9 L1592.4 806.7 L1597.9 723.4 L1603.5 715.0 L1609.0 703.2 L1614.5 690.5 L1620.1 689.9 L1625.6 678.6 L1631.2 664.3 L1636.7 659.9 L1642.3 725.0 L1647.8 719.0 L1653.4 703.1 L1658.9 694.4 L1664.5 689.0 L1670.0 677.9 L1675.6 671.5 L1681.1 686.8 L1686.6 752.4 L1692.2 731.0 L1697.7 740.3 L1703.3 770.9 L1708.8 772.9 L1714.4 740.2 L1719.9 797.7 L1725.5 798.6 L1731.0 786.6 L1736.6 787.4 L1742.1 801.0 L1747.6 822.1 L1753.2 825.0 L1758.7 820.9 L1764.3 798.7 L1769.8 785.0 L1775.4 757.0 L1780.9 792.1 L1786.5 784.6 L1792.0 787.0 L1797.6 802.5 L1803.1 779.5 L1808.7 800.5 L1814.2 805.6 L1819.7 773.1 L1825.3 747.0 L1830.8 768.1 L1836.4 727.0 L1841.9 752.5" stroke="#8080fb" stroke-width="1.15"/>
</g>
<path d="M10 620.0H1906" stroke="#5a5a5a" stroke-width="1.5"/>
<path d="M1855.3 10V874.9" stroke="#4f4f4f" stroke-width="1.4"/>
<path d="M10 853.3H1906" stroke="#1a1a1a" stroke-width="1.2"/>
<text x="1859.7" y="598.1" font-size="8.2" fill="#666" textLength="23.2" lengthAdjust="spacingAndGlyphs">88.000</text>
<text x="1859.7" y="559.1" font-size="8.2" fill="#666" textLength="23.2" lengthAdjust="spacingAndGlyphs">90.000</text>
<text x="1859.7" y="520.1" font-size="8.2" fill="#666" textLength="23.2" lengthAdjust="spacingAndGlyphs">92.000</text>
<text x="1859.7" y="481.1" font-size="8.2" fill="#666" textLength="23.2" lengthAdjust="spacingAndGlyphs">94.000</text>
<text x="1859.7" y="442.1" font-size="8.2" fill="#666" textLength="23.2" lengthAdjust="spacingAndGlyphs">96.000</text>
<text x="1859.7" y="403.1" font-size="8.2" fill="#666" textLength="23.2" lengthAdjust="spacingAndGlyphs">98.000</text>
<text x="1859.7" y="364.1" font-size="8.2" fill="#666" textLength="27.5" lengthAdjust="spacingAndGlyphs">100.000</text>
<text x="1859.7" y="325.1" font-size="8.2" fill="#666" textLength="27.5" lengthAdjust="spacingAndGlyphs">102.000</text>
<text x="1859.7" y="286.1" font-size="8.2" fill="#666" textLength="27.5" lengthAdjust="spacingAndGlyphs">104.000</text>
<text x="1859.7" y="247.1" font-size="8.2" fill="#666" textLength="27.5" lengthAdjust="spacingAndGlyphs">106.000</text>
<text x="1859.7" y="208.1" font-size="8.2" fill="#666" textLength="27.5" lengthAdjust="spacingAndGlyphs">108.000</text>
<text x="1859.7" y="169.1" font-size="8.2" fill="#666" textLength="27.5" lengthAdjust="spacingAndGlyphs">110.000</text>
<text x="1859.7" y="130.1" font-size="8.2" fill="#666" textLength="27.5" lengthAdjust="spacingAndGlyphs">112.000</text>
<text x="1859.7" y="91.1" font-size="8.2" fill="#666" textLength="27.5" lengthAdjust="spacingAndGlyphs">114.000</text>
<text x="1859.7" y="51.1" font-size="8.2" fill="#666" textLength="27.5" lengthAdjust="spacingAndGlyphs">116.000</text>
<text x="1859.7" y="847.6" font-size="8.2" fill="#666" textLength="22.5" lengthAdjust="spacingAndGlyphs">0.0000</text>
<text x="1859.7" y="827.6" font-size="8.2" fill="#666" textLength="26.8" lengthAdjust="spacingAndGlyphs">10.0000</text>
<text x="1859.7" y="807.2" font-size="8.2" fill="#666" textLength="26.8" lengthAdjust="spacingAndGlyphs">20.0000</text>
<text x="1859.7" y="786.6" font-size="8.2" fill="#666" textLength="26.8" lengthAdjust="spacingAndGlyphs">30.0000</text>
<text x="1859.7" y="766.6" font-size="8.2" fill="#666" textLength="26.8" lengthAdjust="spacingAndGlyphs">40.0000</text>
<text x="1859.7" y="745.6" font-size="8.2" fill="#666" textLength="26.8" lengthAdjust="spacingAndGlyphs">50.0000</text>
<text x="1859.7" y="725.6" font-size="8.2" fill="#666" textLength="26.8" lengthAdjust="spacingAndGlyphs">60.0000</text>
<text x="1859.7" y="705.6" font-size="8.2" fill="#666" textLength="26.8" lengthAdjust="spacingAndGlyphs">70.0000</text>
<text x="1859.7" y="685.5" font-size="8.2" fill="#666" textLength="26.8" lengthAdjust="spacingAndGlyphs">80.0000</text>
<text x="1859.7" y="665.6" font-size="8.2" fill="#666" textLength="26.8" lengthAdjust="spacingAndGlyphs">90.0000</text>
<text x="1859.7" y="644.6" font-size="8.2" fill="#666" textLength="31.2" lengthAdjust="spacingAndGlyphs">100.0000</text>
<rect x="1859.5" y="14.5" width="42" height="24" rx="3" fill="#fff" stroke="#ececee" stroke-width="1.2"/>
<text x="1867.8" y="31.7" font-size="12.2" fill="#3c3c3c" textLength="20.2" lengthAdjust="spacingAndGlyphs">USD</text>
<rect x="1855.3" y="345.3" width="36.8" height="10.8" rx="1.4" fill="#e91e63"/>
<text x="1860.6" y="353.6" font-size="8.2" fill="#fff" stroke="#fff" stroke-width="0.3" textLength="28.1" lengthAdjust="spacingAndGlyphs">100.539</text>
<rect x="1855.3" y="393.0" width="32" height="10.8" rx="1.4" fill="#3636ff"/>
<text x="1860.6" y="401.3" font-size="8.2" fill="#fff" stroke="#fff" stroke-width="0.3" textLength="23.3" lengthAdjust="spacingAndGlyphs">98.129</text>
<rect x="1855.3" y="747.1" width="36.8" height="10.8" rx="1.4" fill="#3636ff"/>
<text x="1860.6" y="755.4" font-size="8.2" fill="#fff" stroke="#fff" stroke-width="0.3" textLength="28.1" lengthAdjust="spacingAndGlyphs">45.6352</text>
<rect x="1855.3" y="759.2" width="36.8" height="10.8" rx="1.4" fill="#ff0af5"/>
<text x="1860.6" y="767.5" font-size="8.2" fill="#fff" stroke="#fff" stroke-width="0.3" textLength="28.1" lengthAdjust="spacingAndGlyphs">42.5946</text>
<rect x="1855.3" y="770.2" width="36.8" height="10.8" rx="1.4" fill="#0d7a58"/>
<text x="1860.6" y="778.5" font-size="8.2" fill="#fff" stroke="#fff" stroke-width="0.3" textLength="28.1" lengthAdjust="spacingAndGlyphs">34.5904</text>
<rect x="1855.3" y="781.1" width="36.8" height="10.8" rx="1.4" fill="#5a5a5a"/>
<text x="1860.6" y="789.4" font-size="8.2" fill="#fff" stroke="#fff" stroke-width="0.3" textLength="28.1" lengthAdjust="spacingAndGlyphs">31.8731</text>
<text x="34.9" y="866.9" font-size="7.8" fill="#666" text-anchor="middle">May</text>
<text x="105.9" y="866.9" font-size="7.8" fill="#666" text-anchor="middle">Aug</text>
<text x="166.9" y="866.9" font-size="7.8" fill="#666" text-anchor="middle">21</text>
<text x="228.9" y="866.9" font-size="7.8" fill="#333" text-anchor="middle" font-weight="bold">2020</text>
<text x="299.9" y="866.9" font-size="7.8" fill="#666" text-anchor="middle">Apr</text>
<text x="371.9" y="866.9" font-size="7.8" fill="#666" text-anchor="middle">Jul</text>
<text x="443.9" y="866.9" font-size="7.8" fill="#666" text-anchor="middle">Oct</text>
<text x="516.9" y="866.9" font-size="7.8" fill="#333" text-anchor="middle" font-weight="bold">2021</text>
<text x="588.9" y="866.9" font-size="7.8" fill="#666" text-anchor="middle">Apr</text>
<text x="660.9" y="866.9" font-size="7.8" fill="#666" text-anchor="middle">Jul</text>
<text x="731.9" y="866.9" font-size="7.8" fill="#666" text-anchor="middle">Oct</text>
<text x="804.9" y="866.9" font-size="7.8" fill="#333" text-anchor="middle" font-weight="bold">2022</text>
<text x="876.9" y="866.9" font-size="7.8" fill="#666" text-anchor="middle">Apr</text>
<text x="948.9" y="866.9" font-size="7.8" fill="#666" text-anchor="middle">Jul</text>
<text x="1020.9" y="866.9" font-size="7.8" fill="#666" text-anchor="middle">Oct</text>
<text x="1093.9" y="866.9" font-size="7.8" fill="#333" text-anchor="middle" font-weight="bold">2023</text>
<text x="1164.9" y="866.9" font-size="7.8" fill="#666" text-anchor="middle">Apr</text>
<text x="1236.9" y="866.9" font-size="7.8" fill="#666" text-anchor="middle">Jul</text>
<text x="1308.9" y="866.9" font-size="7.8" fill="#666" text-anchor="middle">Oct</text>
<text x="1381.9" y="866.9" font-size="7.8" fill="#333" text-anchor="middle" font-weight="bold">2024</text>
<text x="1453.9" y="866.9" font-size="7.8" fill="#666" text-anchor="middle">Apr</text>
<text x="1525.9" y="866.9" font-size="7.8" fill="#666" text-anchor="middle">Jul</text>
<text x="1602.9" y="866.9" font-size="7.8" fill="#666" text-anchor="middle">Oct</text>
<text x="1675.9" y="866.9" font-size="7.8" fill="#333" text-anchor="middle" font-weight="bold">2025</text>
<text x="1747.9" y="866.9" font-size="7.8" fill="#666" text-anchor="middle">Apr</text>
<text x="1819.9" y="866.9" font-size="7.8" fill="#666" text-anchor="middle">Jul</text>
<text x="18.3" y="29.9" font-size="12.7" fill="#404040" textLength="13.6" lengthAdjust="spacingAndGlyphs">US</text>
<text x="36.9" y="29.9" font-size="12.7" fill="#404040" textLength="43.5" lengthAdjust="spacingAndGlyphs">DOLLAR</text>
<text x="85.7" y="29.9" font-size="12.7" fill="#404040" textLength="36.6" lengthAdjust="spacingAndGlyphs">INDEX,</text>
<text x="127.8" y="29.9" font-size="12.7" fill="#404040" textLength="19.2" lengthAdjust="spacingAndGlyphs">1W,</text>
<text x="152.3" y="29.9" font-size="12.7" fill="#404040" textLength="21.5" lengthAdjust="spacingAndGlyphs">IUS,</text>
<text x="179.2" y="29.9" font-size="12.7" fill="#404040" textLength="32.9" lengthAdjust="spacingAndGlyphs">Trade</text>
<text x="215.1" y="29.9" font-size="12.7" fill="#404040" textLength="28.0" lengthAdjust="spacingAndGlyphs">Price</text>
<text x="251.7" y="29.9" font-size="12.7" fill="#5252ff" textLength="37.2" lengthAdjust="spacingAndGlyphs">98.129</text>
<text x="298.2" y="29.9" font-size="12.7" fill="#5252ff" textLength="34.8" lengthAdjust="spacingAndGlyphs">-1.012</text>
<text x="338.7" y="29.9" font-size="12.7" fill="#5252ff" textLength="47.3" lengthAdjust="spacingAndGlyphs">(−1.02%)</text>
<text x="404.4" y="29.9" font-size="12.7" fill="#404040" textLength="16.4" lengthAdjust="spacingAndGlyphs">MA</text>
<text x="426.1" y="29.9" font-size="12.7" fill="#404040" textLength="21.1" lengthAdjust="spacingAndGlyphs">(25,</text>
<text x="451.8" y="29.9" font-size="12.7" fill="#404040" textLength="33.3" lengthAdjust="spacingAndGlyphs">close,</text>
<text x="489.6" y="29.9" font-size="12.7" fill="#404040" textLength="11.4" lengthAdjust="spacingAndGlyphs">0)</text>
<text x="510.1" y="29.9" font-size="12.7" fill="#ec4079" textLength="43.9" lengthAdjust="spacingAndGlyphs">100.539</text>
<text x="18.3" y="640.1" font-size="12.7" fill="#404040" textLength="15.9" lengthAdjust="spacingAndGlyphs">RSI</text>
<text x="39.5" y="640.1" font-size="12.7" fill="#404040" textLength="15.1" lengthAdjust="spacingAndGlyphs">(9,</text>
<text x="59.6" y="640.1" font-size="12.7" fill="#404040" textLength="71.2" lengthAdjust="spacingAndGlyphs">Exponential,</text>
<text x="135.6" y="640.1" font-size="12.7" fill="#404040" textLength="42.1" lengthAdjust="spacingAndGlyphs">Simple,</text>
<text x="184.1" y="640.1" font-size="12.7" fill="#404040" textLength="15.9" lengthAdjust="spacingAndGlyphs">14)</text>
<text x="208.7" y="640.1" font-size="12.7" fill="#5c5cff" textLength="44.2" lengthAdjust="spacingAndGlyphs">45.6352</text>
<text x="262.0" y="640.1" font-size="12.7" fill="#2f9273" textLength="44.3" lengthAdjust="spacingAndGlyphs">34.5904</text>
<text x="324.8" y="640.1" font-size="12.7" fill="#404040" textLength="16.9" lengthAdjust="spacingAndGlyphs">RSI</text>
<text x="347.0" y="640.1" font-size="12.7" fill="#404040" textLength="20.4" lengthAdjust="spacingAndGlyphs">(14,</text>
<text x="373.1" y="640.1" font-size="12.7" fill="#404040" textLength="71.0" lengthAdjust="spacingAndGlyphs">Exponential,</text>
<text x="449.1" y="640.1" font-size="12.7" fill="#404040" textLength="42.6" lengthAdjust="spacingAndGlyphs">Simple,</text>
<text x="496.6" y="640.1" font-size="12.7" fill="#404040" textLength="17.8" lengthAdjust="spacingAndGlyphs">25)</text>
<text x="521.8" y="640.1" font-size="12.7" fill="#ff33ff" textLength="44.9" lengthAdjust="spacingAndGlyphs">42.5946</text>
<text x="575.4" y="640.1" font-size="12.7" fill="#707070" textLength="44.0" lengthAdjust="spacingAndGlyphs">31.8731</text>
<path d="M1839 885h1v1h-1zM1854 885h1v1h-1zM1855 885h1v1h-1zM1856 885h1v1h-1zM1859 885h1v1h-1zM1834 886h1v1h-1zM1835 886h1v1h-1zM1836 886h1v1h-1zM1837 886h1v1h-1zM1838 886h1v1h-1zM1839 886h1v1h-1zM1840 886h1v1h-1zM1841 886h1v1h-1zM1842 886h1v1h-1zM1850 886h1v1h-1zM1851 886h1v1h-1zM1853 886h1v1h-1zM1854 886h1v1h-1zM1855 886h1v1h-1zM1856 886h1v1h-1zM1857 886h1v1h-1zM1858 886h1v1h-1zM1833 887h1v1h-1zM1834 887h1v1h-1zM1835 887h1v1h-1zM1836 887h1v1h-1zM1837 887h1v1h-1zM1839 887h1v1h-1zM1841 887h1v1h-1zM1849 887h1v1h-1zM1850 887h1v1h-1zM1852 887h1v1h-1zM1854 887h1v1h-1zM1855 887h1v1h-1zM1856 887h1v1h-1zM1858 887h1v1h-1zM1859 887h1v1h-1zM1860 887h1v1h-1zM1834 888h1v1h-1zM1835 888h1v1h-1zM1836 888h1v1h-1zM1837 888h1v1h-1zM1839 888h1v1h-1zM1840 888h1v1h-1zM1841 888h1v1h-1zM1842 888h1v1h-1zM1843 888h1v1h-1zM1844 888h1v1h-1zM1845 888h1v1h-1zM1846 888h1v1h-1zM1847 888h1v1h-1zM1848 888h1v1h-1zM1849 888h1v1h-1zM1851 888h1v1h-1zM1852 888h1v1h-1zM1854 888h1v1h-1zM1855 888h1v1h-1zM1857 888h1v1h-1zM1858 888h1v1h-1zM1860 888h1v1h-1zM1832 889h1v1h-1zM1834 889h1v1h-1zM1835 889h1v1h-1zM1836 889h1v1h-1zM1837 889h1v1h-1zM1838 889h1v1h-1zM1839 889h1v1h-1zM1840 889h1v1h-1zM1841 889h1v1h-1zM1842 889h1v1h-1zM1844 889h1v1h-1zM1845 889h1v1h-1zM1846 889h1v1h-1zM1847 889h1v1h-1zM1848 889h1v1h-1zM1849 889h1v1h-1zM1850 889h1v1h-1zM1851 889h1v1h-1zM1852 889h1v1h-1zM1853 889h1v1h-1zM1855 889h1v1h-1zM1858 889h1v1h-1zM1859 889h1v1h-1zM1860 889h1v1h-1zM1832 890h1v1h-1zM1834 890h1v1h-1zM1835 890h1v1h-1zM1836 890h1v1h-1zM1838 890h1v1h-1zM1839 890h1v1h-1zM1840 890h1v1h-1zM1842 890h1v1h-1zM1843 890h1v1h-1zM1844 890h1v1h-1zM1845 890h1v1h-1zM1846 890h1v1h-1zM1847 890h1v1h-1zM1848 890h1v1h-1zM1849 890h1v1h-1zM1850 890h1v1h-1zM1851 890h1v1h-1zM1852 890h1v1h-1zM1853 890h1v1h-1zM1854 890h1v1h-1zM1855 890h1v1h-1zM1856 890h1v1h-1zM1857 890h1v1h-1zM1858 890h1v1h-1zM1832 891h1v1h-1zM1833 891h1v1h-1zM1834 891h1v1h-1zM1835 891h1v1h-1zM1836 891h1v1h-1zM1837 891h1v1h-1zM1839 891h1v1h-1zM1841 891h1v1h-1zM1842 891h1v1h-1zM1843 891h1v1h-1zM1844 891h1v1h-1zM1845 891h1v1h-1zM1847 891h1v1h-1zM1848 891h1v1h-1zM1849 891h1v1h-1zM1850 891h1v1h-1zM1851 891h1v1h-1zM1852 891h1v1h-1zM1855 891h1v1h-1zM1856 891h1v1h-1zM1859 891h1v1h-1zM1833 892h1v1h-1zM1834 892h1v1h-1zM1835 892h1v1h-1zM1836 892h1v1h-1zM1837 892h1v1h-1zM1838 892h1v1h-1zM1839 892h1v1h-1zM1842 892h1v1h-1zM1843 892h1v1h-1zM1844 892h1v1h-1zM1845 892h1v1h-1zM1846 892h1v1h-1zM1847 892h1v1h-1zM1848 892h1v1h-1zM1849 892h1v1h-1zM1850 892h1v1h-1zM1851 892h1v1h-1zM1852 892h1v1h-1zM1853 892h1v1h-1zM1854 892h1v1h-1zM1855 892h1v1h-1zM1856 892h1v1h-1zM1858 892h1v1h-1zM1859 892h1v1h-1zM1860 892h1v1h-1zM1833 893h1v1h-1zM1834 893h1v1h-1zM1835 893h1v1h-1zM1837 893h1v1h-1zM1838 893h1v1h-1zM1840 893h1v1h-1zM1841 893h1v1h-1zM1842 893h1v1h-1zM1843 893h1v1h-1zM1844 893h1v1h-1zM1845 893h1v1h-1zM1846 893h1v1h-1zM1847 893h1v1h-1zM1848 893h1v1h-1zM1849 893h1v1h-1zM1850 893h1v1h-1zM1851 893h1v1h-1zM1856 893h1v1h-1zM1857 893h1v1h-1zM1858 893h1v1h-1zM1859 893h1v1h-1zM1833 894h1v1h-1zM1834 894h1v1h-1zM1836 894h1v1h-1zM1837 894h1v1h-1zM1840 894h1v1h-1zM1841 894h1v1h-1zM1842 894h1v1h-1zM1843 894h1v1h-1zM1844 894h1v1h-1zM1845 894h1v1h-1zM1846 894h1v1h-1zM1847 894h1v1h-1zM1848 894h1v1h-1zM1849 894h1v1h-1zM1850 894h1v1h-1zM1851 894h1v1h-1zM1852 894h1v1h-1zM1854 894h1v1h-1zM1855 894h1v1h-1zM1856 894h1v1h-1zM1858 894h1v1h-1zM1838 895h1v1h-1zM1839 895h1v1h-1zM1840 895h1v1h-1zM1841 895h1v1h-1zM1842 895h1v1h-1zM1843 895h1v1h-1zM1844 895h1v1h-1zM1845 895h1v1h-1zM1846 895h1v1h-1zM1847 895h1v1h-1zM1848 895h1v1h-1zM1849 895h1v1h-1zM1850 895h1v1h-1zM1851 895h1v1h-1zM1854 895h1v1h-1zM1857 895h1v1h-1zM1858 895h1v1h-1zM1836 896h1v1h-1zM1841 896h1v1h-1zM1843 896h1v1h-1zM1844 896h1v1h-1zM1845 896h1v1h-1zM1846 896h1v1h-1zM1847 896h1v1h-1zM1848 896h1v1h-1zM1849 896h1v1h-1zM1852 896h1v1h-1zM1854 896h1v1h-1zM1857 896h1v1h-1zM1858 896h1v1h-1zM1835 897h1v1h-1zM1838 897h1v1h-1zM1839 897h1v1h-1zM1841 897h1v1h-1zM1843 897h1v1h-1zM1844 897h1v1h-1zM1845 897h1v1h-1zM1846 897h1v1h-1zM1847 897h1v1h-1zM1848 897h1v1h-1zM1849 897h1v1h-1zM1853 897h1v1h-1zM1855 897h1v1h-1zM1856 897h1v1h-1zM1835 898h1v1h-1zM1841 898h1v1h-1zM1842 898h1v1h-1zM1844 898h1v1h-1zM1845 898h1v1h-1zM1846 898h1v1h-1zM1848 898h1v1h-1zM1849 898h1v1h-1zM1850 898h1v1h-1zM1854 898h1v1h-1zM1857 898h1v1h-1zM1840 899h1v1h-1zM1842 899h1v1h-1zM1845 899h1v1h-1zM1846 899h1v1h-1zM1847 899h1v1h-1zM1848 899h1v1h-1zM1852 899h1v1h-1zM1853 899h1v1h-1zM1856 899h1v1h-1zM1837 900h1v1h-1zM1838 900h1v1h-1zM1839 900h1v1h-1zM1841 900h1v1h-1zM1842 900h1v1h-1zM1844 900h1v1h-1zM1846 900h1v1h-1zM1847 900h1v1h-1zM1848 900h1v1h-1zM1849 900h1v1h-1zM1852 900h1v1h-1zM1855 900h1v1h-1zM1837 901h1v1h-1zM1844 901h1v1h-1zM1848 901h1v1h-1zM1849 901h1v1h-1zM1851 901h1v1h-1zM1854 901h1v1h-1zM1839 902h1v1h-1zM1841 902h1v1h-1zM1842 902h1v1h-1zM1846 902h1v1h-1zM1849 902h1v1h-1zM1850 902h1v1h-1zM1843 903h1v1h-1zM1848 903h1v1h-1zM1849 903h1v1h-1z" fill="#0a1eff"/>
<text x="1866.3" y="899.6" font-size="15.8" fill="#0a1eff" font-weight="bold" textLength="39.6" lengthAdjust="spacingAndGlyphs">LSEG</text>
</svg>
</body></html>
